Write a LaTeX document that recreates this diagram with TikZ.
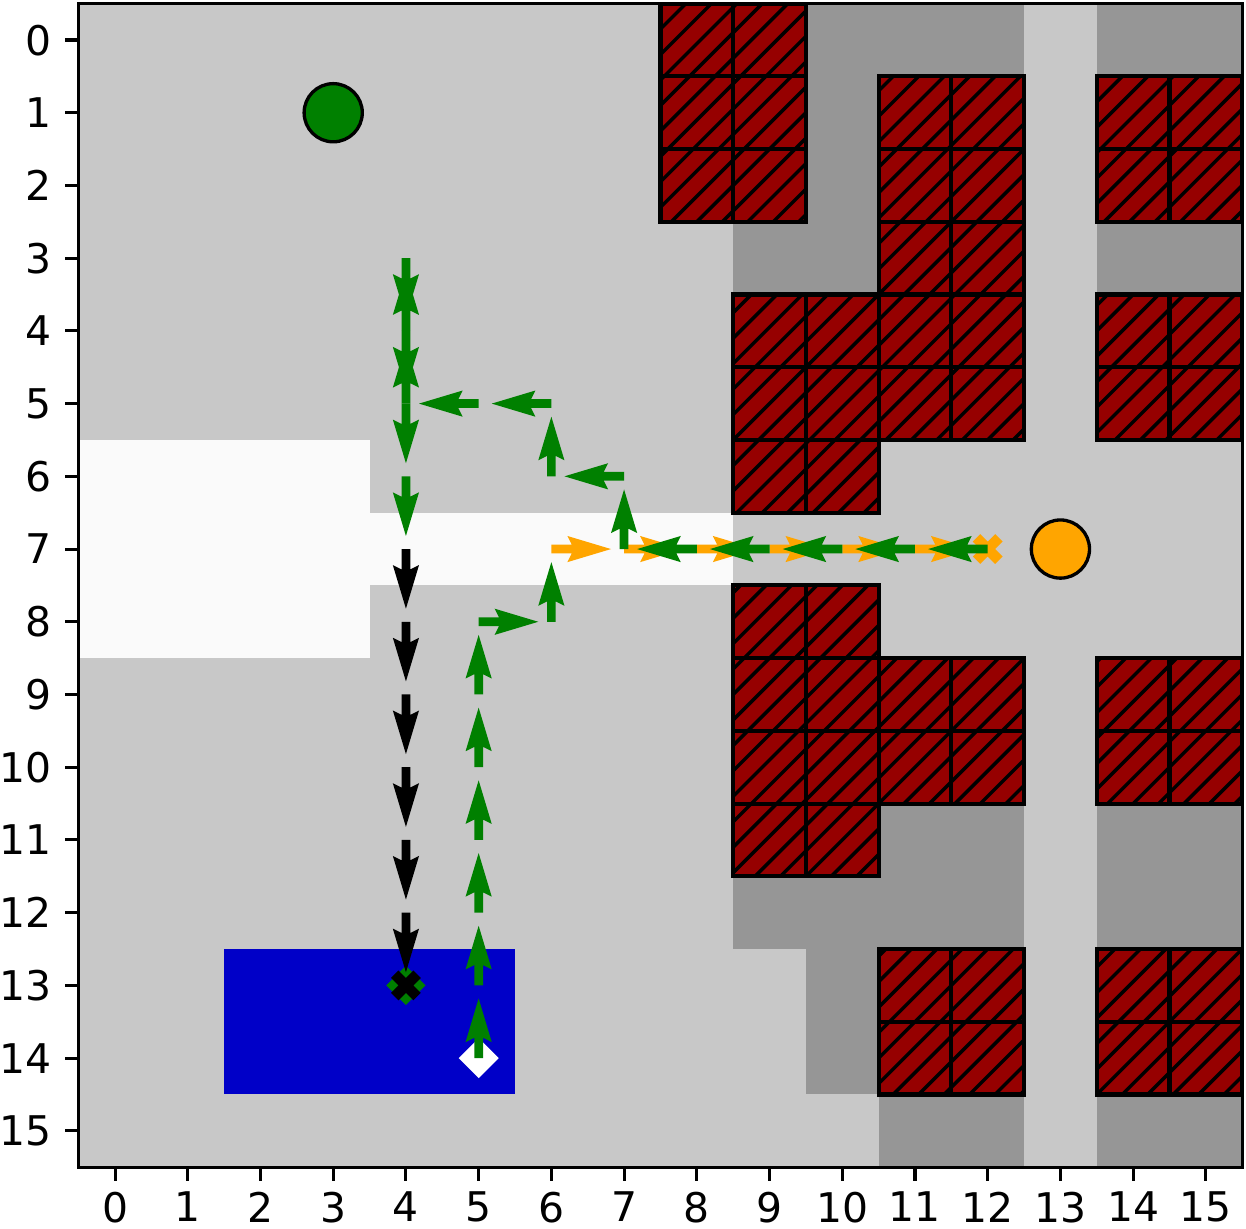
\documentclass[tikz,border=0pt]{standalone}
\usepackage{fontspec}
\setmainfont{DejaVu Sans}
\definecolor{lgray}{RGB}{200,200,200}
\definecolor{dgray}{RGB}{150,150,150}
\definecolor{wcell}{RGB}{250,250,250}
\definecolor{obst}{RGB}{150,0,0}
\definecolor{zone}{RGB}{0,0,200}
\definecolor{pgreen}{RGB}{0,128,0}
\definecolor{porange}{RGB}{255,165,0}
\newcommand{\qarr}[4]{\fill[#1, shift={(#2,-#3)}, rotate=#4] (0,-0.06) -- (0.28,-0.06) -- (0.22,-0.18) -- (0.82,0) -- (0.22,0.18) -- (0.28,0.06) -- (0,0.06) -- cycle;}
\newcommand{\xmk}[3]{\fill[#1, shift={(#2,-#3)}, scale=0.1025] (-1,-2) -- (0,-1) -- (1,-2) -- (2,-1) -- (1,0) -- (2,1) -- (1,2) -- (0,1) -- (-1,2) -- (-2,1) -- (-1,0) -- (-2,-1) -- cycle;}
\newcommand{\dmk}[4]{\fill[#1, shift={(#2,-#3)}] (0,#4) -- (#4,0) -- (0,-#4) -- (-#4,0) -- cycle;}
\tikzset{
  ticklab/.style={inner sep=0pt, text depth=0pt, font=\fontsize{16}{19}\selectfont},
  tickline/.style={line width=1.2pt},
  agent/.style={circle, draw=black, line width=1.3pt, minimum size=0.8cm, inner sep=0pt},
}
\begin{document}
\begin{tikzpicture}
\useasboundingbox (-1.582,-16.337) rectangle (15.552,0.55);
% background
\fill[lgray] (-0.5,-15.5) rectangle (15.5,0.5);
% dark gray cells
\foreach \cc/\rr in {10/0,11/0,12/0,14/0,15/0,10/1,10/2,9/3,10/3,14/3,15/3,11/11,12/11,14/11,15/11,9/12,10/12,11/12,12/12,14/12,15/12,10/13,10/14,11/15,12/15,14/15,15/15}
  \fill[dgray] (\cc-0.5,-\rr-0.5) rectangle ++(1,1);
% white corridor
\fill[wcell] (-0.5,-8.5) rectangle (3.5,-5.5);
\fill[wcell] (3.5,-7.5) rectangle (8.5,-6.5);
% blue zone
\fill[zone] (1.5,-14.5) rectangle (5.5,-12.5);
% obstacles: fill
\fill[obst] (7.5,-2.5) rectangle (9.5,0.5)
  (10.5,-5.5) rectangle (12.5,-0.5)
  (13.5,-2.5) rectangle (15.5,-0.5)
  (8.5,-6.5) rectangle (10.5,-3.5)
  (13.5,-5.5) rectangle (15.5,-3.5)
  (8.5,-11.5) rectangle (10.5,-7.5)
  (10.5,-10.5) rectangle (12.5,-8.5)
  (13.5,-10.5) rectangle (15.5,-8.5)
  (10.5,-14.5) rectangle (12.5,-12.5)
  (13.5,-14.5) rectangle (15.5,-12.5);
% obstacles: hatch
\begin{scope}
  \clip (7.5,-2.5) rectangle (9.5,0.5)
  (10.5,-5.5) rectangle (12.5,-0.5)
  (13.5,-2.5) rectangle (15.5,-0.5)
  (8.5,-6.5) rectangle (10.5,-3.5)
  (13.5,-5.5) rectangle (15.5,-3.5)
  (8.5,-11.5) rectangle (10.5,-7.5)
  (10.5,-10.5) rectangle (12.5,-8.5)
  (13.5,-10.5) rectangle (15.5,-8.5)
  (10.5,-14.5) rectangle (12.5,-12.5)
  (13.5,-14.5) rectangle (15.5,-12.5);
  \foreach \k in {0,...,75}
    \draw[black, line width=1.35pt] (-10+0.35*\k,-17) -- ++(18,18);
\end{scope}
% obstacles: cell edges
\foreach \cc/\rr in {8/0,9/0,8/1,9/1,8/2,9/2,11/1,12/1,14/1,15/1,11/2,12/2,14/2,15/2,11/3,12/3,9/4,10/4,11/4,12/4,14/4,15/4,9/5,10/5,11/5,12/5,14/5,15/5,9/6,10/6,9/8,10/8,9/9,10/9,11/9,12/9,14/9,15/9,9/10,10/10,11/10,12/10,14/10,15/10,9/11,10/11,11/13,12/13,14/13,15/13,11/14,12/14,14/14,15/14}
  \draw[black, line width=1.6pt] (\cc-0.5,-\rr-0.5) rectangle ++(1,1);
% agents
\node[agent, fill=pgreen] (agentg) at (3,-1) {};
\node[agent, fill=porange] (agento) at (13,-7) {};
% markers
\dmk{white}{5}{14}{0.275}
\dmk{pgreen}{4}{13}{0.27}
\xmk{black}{4}{13}
\xmk{porange}{12}{7}
% orange path
\foreach \cc in {6,...,11} {\qarr{porange}{\cc}{7}{0}}
% green path
\foreach \cc/\rr in {5/14,5/13,5/12,5/11,5/10,5/9,6/8,7/7,6/6,4/5,4/4} {\qarr{pgreen}{\cc}{\rr}{90}}
\qarr{pgreen}{5}{8}{0}
\foreach \cc/\rr in {12/7,11/7,10/7,9/7,8/7,7/6,6/5,5/5} {\qarr{pgreen}{\cc}{\rr}{180}}
\foreach \cc/\rr in {4/3,4/4,4/5,4/6} {\qarr{pgreen}{\cc}{\rr}{270}}
% black path
\foreach \rr in {7,...,12} {\qarr{black}{4}{\rr}{270}}
% frame
\draw[line width=1.2pt] (-0.5,-15.5) rectangle (15.5,0.5);
% ticks and labels
\foreach \i in {0,...,15} {
  \draw[tickline] (\i,-15.5) -- (\i,-15.69);
  \node[ticklab, anchor=north] (xl\i) at (\i,-15.83) {\i};
  \draw[tickline] (-0.5,-\i) -- (-0.69,-\i);
  \node[ticklab, anchor=east] (yl\i) at (-0.87,-\i) {\i};
}
\end{tikzpicture}
\end{document}
